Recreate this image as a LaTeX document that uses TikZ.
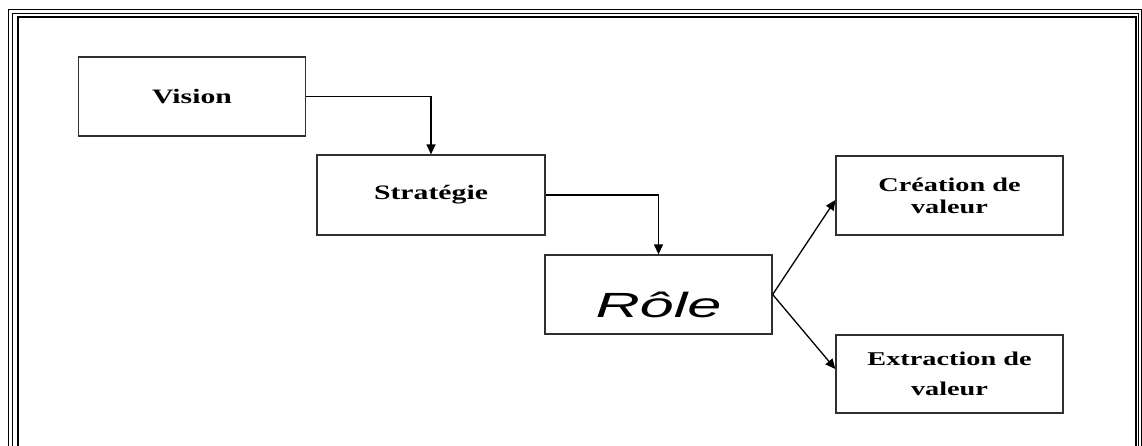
\documentclass[tikz,border=0pt]{standalone}
\usepackage{fontspec}
\setmainfont{Liberation Serif}
\newfontfamily\boxfont[FakeStretch=1.45]{Liberation Serif}
\newfontfamily\rolefont[FakeStretch=1.75]{Liberation Sans}
\usetikzlibrary{arrows.meta}
\definecolor{boxline}{HTML}{303030}
\tikzset{
  blk/.style={draw=boxline, line width=1.3pt, fill=white, inner sep=0pt,
    minimum width=227pt, minimum height=79pt, align=center},
  conn/.style={draw=black, line width=1.3pt, -{Triangle[length=10pt,width=9pt]}},
  frame/.style={draw=black}
}
\begin{document}
\begin{tikzpicture}[x=1pt,y=-1pt]
\useasboundingbox (0,0) rectangle (1142,445);
\fill[white] (0,0) rectangle (1142,445);
% frame (open at bottom)
\begin{scope}
\clip (0,0) rectangle (1142,445);
\draw[frame, line width=1pt] (8,460) -- (8,9.5) -- (1141,9.5) -- (1141,460);
\draw[frame, line width=1pt] (12.5,460) -- (12.5,13) -- (1138.5,13) -- (1138.5,460);
\draw[frame, line width=2pt] (18,460) -- (18,17) -- (1135.5,17) -- (1135.5,460);
\end{scope}
% boxes
\node[blk, font=\boxfont\fontsize{20.5}{24}\selectfont\bfseries] (vision) at (192,96.5) {Vision};
\node[blk, minimum width=228pt, minimum height=80pt, font=\boxfont\fontsize{20.5}{24}\selectfont\bfseries] (strat) at (431,195) {Stratégie};
\node[blk, text height=55pt, text depth=10pt, font=\rolefont\fontsize{35}{40}\selectfont\itshape] (role) at (658.5,294.5) {Rôle};
\node[blk, font=\boxfont\fontsize{19.5}{22}\selectfont\bfseries] (crea) at (949.5,195.5) {Création de\\ valeur};
\node[blk, minimum height=78pt, font=\boxfont\fontsize{19.5}{30}\selectfont\bfseries] (extr) at (949.5,374) {Extraction de\\ valeur};
% connectors
\draw[conn] (vision.east) -| (strat.north);
\draw[conn] (strat.east) -| (role.north);
\draw[conn] (role.east) -- ([yshift=-4.5pt]crea.west);
\draw[conn] (role.east) -- ([yshift=5pt]extr.west);
\end{tikzpicture}
\end{document}
